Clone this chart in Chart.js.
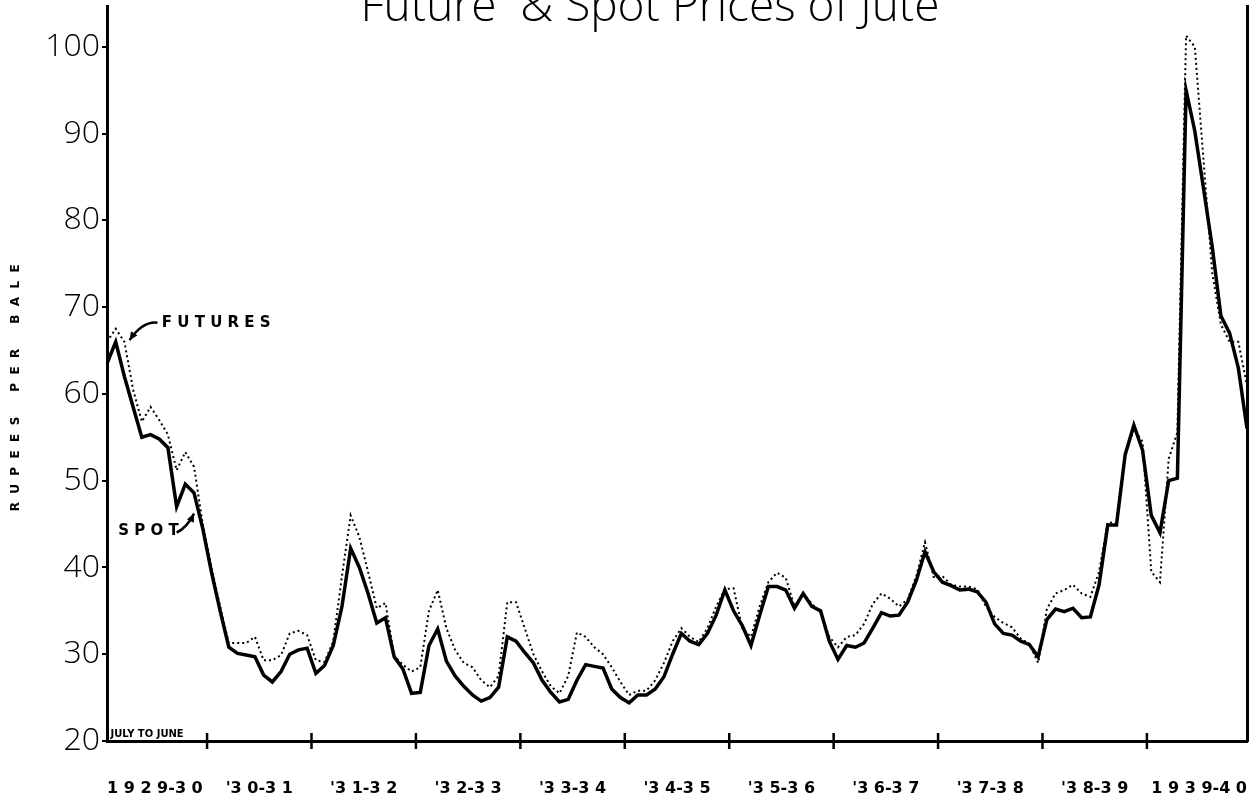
<!DOCTYPE html>
<html>
<head>
<meta charset="utf-8">
<title>Future &amp; Spot Prices of Jute</title>
<script src="https://cdn.jsdelivr.net/npm/chart.js@4/dist/chart.umd.min.js"></script>
<style>
  html, body { margin: 0; padding: 0; background: #fff; }
</style>
</head>
<body>
<canvas id="juteChart" width="1253" height="798"></canvas>
<script>
// Monthly prices, July 1929 (index 0) to June 1940, rupees per bale
const seasons = ['1929-30', "'30-31", "'31-32", "'32-33", "'33-34", "'34-35",
  "'35-36", "'36-37", "'37-38", "'38-39", '1939-40'];
const yTicks = [20, 30, 40, 50, 60, 70, 80, 90, 100];

const spot = [
  63.5, 66, 62, 58.5, 55, 55.3, 54.8, 53.8, 47, 49.6, 48.6, 44.5,
  39.5, 35, 30.8, 30.1, 29.9, 29.7, 27.6, 26.8, 28, 30, 30.5, 30.7,
  27.8, 28.7, 31, 35.5, 42.2, 40, 37, 33.6, 34.2, 29.7, 28.3, 25.5,
  25.6, 31, 32.9, 29.2, 27.5, 26.3, 25.3, 24.6, 25, 26.2, 32, 31.5,
  30.2, 29, 27, 25.6, 24.5, 24.8, 27, 28.8, 28.6, 28.4, 26, 25,
  24.4, 25.3, 25.3, 26, 27.4, 30, 32.4, 31.5, 31.1, 32.4, 34.5, 37.4,
  35, 33.3, 31, 34.5, 37.8, 37.8, 37.4, 35.3, 37, 35.5, 35, 31.5,
  29.4, 31, 30.8, 31.3, 33, 34.8, 34.4, 34.5, 36, 38.5, 41.8, 39.5,
  38.3, 37.9, 37.4, 37.5, 37.2, 36, 33.5, 32.4, 32.2, 31.5, 31.1, 29.7,
  34, 35.2, 34.9, 35.3, 34.2, 34.3, 38, 44.9, 44.9, 53, 56.4, 53.5,
  46, 44, 50, 50.3, 95, 90.3, 83.7, 77, 69, 67, 63, 56
];

const futures = [
  66, 67.5, 66, 60.5, 56.8, 58.5, 57, 55.3, 51.2, 53.3, 51.6, 45,
  40, 35.5, 31.3, 31.3, 31.3, 32, 29.3, 29.3, 29.9, 32.4, 32.7, 32.2,
  29.3, 29.1, 31.5, 39, 46, 43.5, 39.5, 35.3, 35.9, 29.8, 28.8, 28,
  28.5, 35, 37.4, 33, 30.5, 29, 28.5, 27, 26.2, 27.5, 36, 36,
  33, 30, 28, 26.3, 25.5, 27.5, 32.5, 32, 30.8, 30, 28.5, 26.8,
  25.3, 25.8, 25.8, 27, 29, 31.5, 33, 32, 31.4, 33, 35.5, 37.5,
  37.6, 33, 32, 35.5, 38.3, 39.4, 38.8, 35.5, 37, 35.8, 34.8, 32,
  30.8, 32, 32.2, 33.5, 35.8, 37, 36.4, 35.5, 36.3, 39, 42.9, 38.9,
  39, 38, 37.8, 37.8, 37.5, 35.5, 34.3, 33.6, 33.1, 31.8, 31.2, 29,
  35.2, 37, 37.4, 38, 37, 36.6, 39.5, 45.2, 45.1, 53, 55.9, 54.5,
  39.5, 38.3, 52.5, 55.6, 101.3, 100, 87, 74, 68, 66, 66, 61
];

const LAST = spot.length - 1;
const spaced = s => s.replace(/(\d)(?=\d)/g, '$1 ');
const toPoints = arr => arr.map((v, i) => ({ x: i, y: v }));

// keep tick labels from pushing the plot area inwards
const noEdgePadding = s => {
  s.paddingTop = 0; s.paddingBottom = 0;
  s.paddingLeft = 0; s.paddingRight = 0;
};

function arrow(ctx, x0, y0, cx, cy, x1, y1) {
  ctx.beginPath();
  ctx.moveTo(x0, y0);
  ctx.quadraticCurveTo(cx, cy, x1, y1);
  ctx.stroke();
  const a = Math.atan2(y1 - cy, x1 - cx);
  ctx.beginPath();
  ctx.moveTo(x1, y1);
  ctx.lineTo(x1 - 9 * Math.cos(a - 0.45), y1 - 9 * Math.sin(a - 0.45));
  ctx.lineTo(x1 - 9 * Math.cos(a + 0.45), y1 - 9 * Math.sin(a + 0.45));
  ctx.closePath();
  ctx.fill();
}

const decorations = {
  id: 'decorations',
  afterDraw(chart) {
    const { ctx, scales: { x, y } } = chart;
    ctx.save();
    ctx.fillStyle = '#000';
    ctx.strokeStyle = '#000';

    // heading, running off the top edge
    ctx.font = '300 46px "Open Sans"';
    ctx.textAlign = 'center';
    ctx.textBaseline = 'alphabetic';
    ctx.fillText('Future  & Spot Prices of Jute', 650, 21);

    // crosses between each June and July
    ctx.lineWidth = 2.5;
    for (let m = 12; m <= LAST; m += 12) {
      const px = x.getPixelForValue(m - 0.5);
      ctx.beginPath();
      ctx.moveTo(px, y.bottom - 8);
      ctx.lineTo(px, y.bottom + 8);
      ctx.stroke();
    }

    // series labels with pointers
    ctx.font = 'bold 15px "DejaVu Sans"';
    ctx.textAlign = 'left';
    ctx.textBaseline = 'middle';
    ctx.fillText('F U T U R E S', x.getPixelForValue(6.3), y.getPixelForValue(68.2));
    ctx.fillText('S P O T', x.getPixelForValue(1.3), y.getPixelForValue(44.2));
    ctx.lineWidth = 2.5;
    arrow(ctx,
      x.getPixelForValue(5.8), y.getPixelForValue(68.2),
      x.getPixelForValue(4.1), y.getPixelForValue(68.4),
      x.getPixelForValue(2.6), y.getPixelForValue(66.2));
    arrow(ctx,
      x.getPixelForValue(8.0), y.getPixelForValue(44),
      x.getPixelForValue(9.2), y.getPixelForValue(44.6),
      x.getPixelForValue(10.0), y.getPixelForValue(46.2));

    // season note above the axis
    ctx.font = 'bold 10px "DejaVu Sans"';
    ctx.textBaseline = 'alphabetic';
    ctx.fillText('JULY TO JUNE', x.getPixelForValue(0.4), y.bottom - 4);

    // axis caption, read from the bottom up
    ctx.font = 'bold 12px "DejaVu Sans"';
    ctx.textAlign = 'center';
    ctx.textBaseline = 'middle';
    ctx.translate(16, y.getPixelForValue(60.7));
    ctx.rotate(-Math.PI / 2);
    ctx.fillText('R  U  P  E  E  S      P  E  R      B  A  L  E', 0, 0);
    ctx.restore();
  }
};

new Chart(document.getElementById('juteChart'), {
  type: 'line',
  data: {
    datasets: [
      {
        label: 'Futures',
        data: toPoints(futures),
        borderColor: '#000',
        borderWidth: 2,
        borderDash: [2, 3],
        pointRadius: 0,
        tension: 0,
        fill: false
      },
      {
        label: 'Spot',
        data: toPoints(spot),
        borderColor: '#000',
        borderWidth: 3.5,
        pointRadius: 0,
        tension: 0,
        fill: false
      }
    ]
  },
  options: {
    responsive: false,
    animation: false,
    layout: { padding: { left: 0, right: 6, top: 6, bottom: 0 } },
    plugins: {
      legend: { display: false },
      tooltip: { enabled: false }
    },
    scales: {
      x: {
        type: 'linear',
        min: 0,
        max: LAST,
        grid: { display: false },
        border: { display: true, color: '#000', width: 3 },
        afterBuildTicks: s => { s.ticks = seasons.map((_, i) => ({ value: i * 12 + 5.5 })); },
        afterFit: s => { s.height = 57; noEdgePadding(s); },
        ticks: {
          padding: 30,
          maxRotation: 0,
          autoSkip: false,
          color: '#000',
          font: { family: '"DejaVu Sans"', weight: 'bold', size: 16 },
          callback: v => spaced(seasons[Math.round((v - 5.5) / 12)] || '')
        }
      },
      y: {
        min: 20,
        max: 104.7,
        afterBuildTicks: s => { s.ticks = yTicks.map(v => ({ value: v })); },
        afterFit: s => { s.width = 107; noEdgePadding(s); },
        grid: { drawOnChartArea: false, tickLength: 5, color: '#000', lineWidth: 2 },
        border: { display: true, color: '#000', width: 3 },
        ticks: {
          padding: 2,
          color: '#000',
          font: { family: '"Open Sans"', weight: 300, size: 32 }
        }
      },
      yRight: {
        position: 'right',
        min: 20,
        max: 104.7,
        afterFit: s => { s.width = 0; noEdgePadding(s); },
        grid: { display: false },
        ticks: { display: false },
        border: { display: true, color: '#000', width: 3 }
      }
    }
  },
  plugins: [decorations]
});
</script>
</body>
</html>
